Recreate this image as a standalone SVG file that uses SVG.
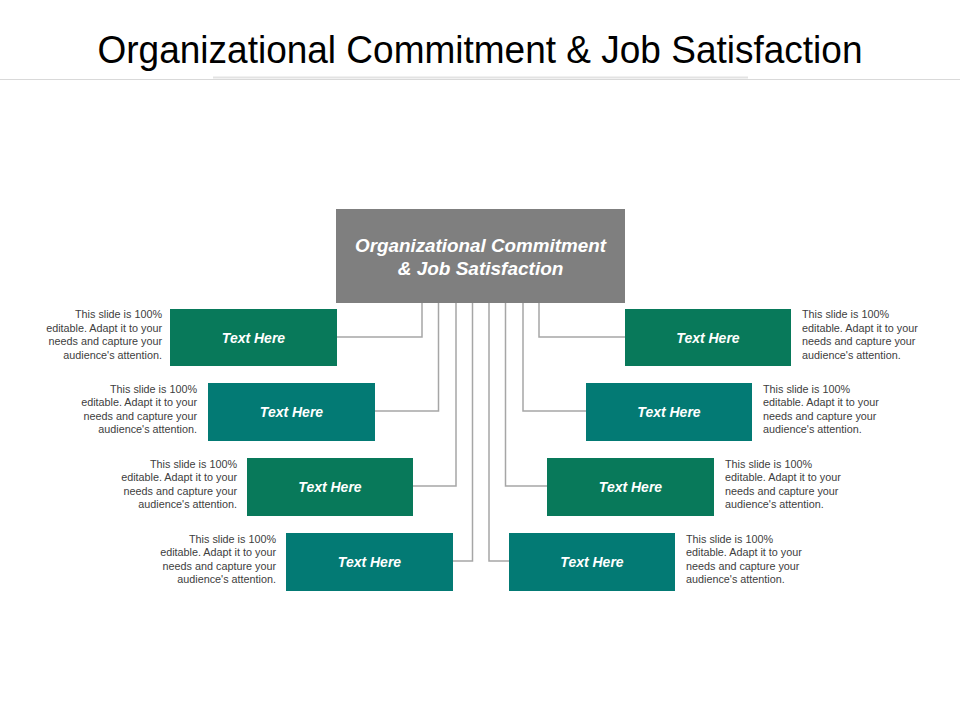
<svg xmlns="http://www.w3.org/2000/svg" width="960" height="720" viewBox="0 0 960 720">
<style>
.title{font-family:"Liberation Sans",Arial,sans-serif;font-size:38px;fill:#000}
.hub{font-family:"Liberation Sans",Arial,sans-serif;font-size:19px;font-weight:bold;font-style:italic;fill:#fff;text-anchor:middle}
.lbl{font-family:"Liberation Sans",Arial,sans-serif;font-size:14px;font-weight:bold;font-style:italic;fill:#fff;text-anchor:middle}
.desc{font-family:"Liberation Sans",Arial,sans-serif;font-size:10.8px;fill:#404040}
.l{text-anchor:end}
.r{text-anchor:start}
.green{fill:#08795A}
.teal{fill:#037A74}
.conn{fill:none;stroke:#A6A6A6;stroke-width:1.5}
</style>
<rect width="960" height="720" fill="#fff"/>
<g id="header">
<text class="title" x="480" y="63" text-anchor="middle" textLength="765" lengthAdjust="spacingAndGlyphs">Organizational  Commitment &amp; Job Satisfaction</text>
<line x1="0" y1="79.5" x2="960" y2="79.5" stroke="#D9D9D9" stroke-width="1"/>
<line x1="213" y1="77.5" x2="748" y2="77.5" stroke="#E3E3E3" stroke-width="2"/>
</g>
<g id="connectors">
<polyline class="conn" points="422,303 422,337 337,337"/>
<polyline class="conn" points="438.5,303 438.5,411 375,411"/>
<polyline class="conn" points="456,303 456,486 413,486"/>
<polyline class="conn" points="472.5,303 472.5,561 453,561"/>
<polyline class="conn" points="489,303 489,561 509,561"/>
<polyline class="conn" points="505.5,303 505.5,486 547,486"/>
<polyline class="conn" points="523,303 523,411 586,411"/>
<polyline class="conn" points="539,303 539,337 625,337"/>
</g>
<g id="hub">
<rect x="336" y="209" width="289" height="94" fill="#7F7F7F"/>
<text class="hub" x="480.5" y="252" textLength="251" lengthAdjust="spacingAndGlyphs">Organizational Commitment</text>
<text class="hub" x="480.5" y="275">&amp; Job Satisfaction</text>
</g>
<g id="left1">
<rect class="green" x="170" y="309" width="167" height="57"/>
<text class="lbl" x="253.5" y="342.5">Text Here</text>
<text class="desc l" x="162"><tspan x="162" y="318">This slide is 100%</tspan><tspan x="162" y="331.5">editable.  Adapt it to your</tspan><tspan x="162" y="345">needs and capture your</tspan><tspan x="162" y="358.5">audience's attention.</tspan></text>
</g>
<g id="left2">
<rect class="teal" x="208" y="383" width="167" height="58"/>
<text class="lbl" x="291.5" y="417">Text Here</text>
<text class="desc l" x="197"><tspan x="197" y="392.5">This slide is 100%</tspan><tspan x="197" y="406">editable.  Adapt it to your</tspan><tspan x="197" y="419.5">needs and capture your</tspan><tspan x="197" y="433">audience's attention.</tspan></text>
</g>
<g id="left3">
<rect class="green" x="247" y="458" width="166" height="58"/>
<text class="lbl" x="330" y="492">Text Here</text>
<text class="desc l" x="237"><tspan x="237" y="467.5">This slide is 100%</tspan><tspan x="237" y="481">editable.  Adapt it to your</tspan><tspan x="237" y="494.5">needs and capture your</tspan><tspan x="237" y="508">audience's attention.</tspan></text>
</g>
<g id="left4">
<rect class="teal" x="286" y="533" width="167" height="58"/>
<text class="lbl" x="369.5" y="567">Text Here</text>
<text class="desc l" x="276"><tspan x="276" y="542.5">This slide is 100%</tspan><tspan x="276" y="556">editable.  Adapt it to your</tspan><tspan x="276" y="569.5">needs and capture your</tspan><tspan x="276" y="583">audience's attention.</tspan></text>
</g>
<g id="right1">
<rect class="green" x="625" y="309" width="166" height="57"/>
<text class="lbl" x="708" y="342.5">Text Here</text>
<text class="desc r" x="802"><tspan x="802" y="318">This slide is 100%</tspan><tspan x="802" y="331.5">editable.  Adapt it to your</tspan><tspan x="802" y="345">needs and capture your</tspan><tspan x="802" y="358.5">audience's attention.</tspan></text>
</g>
<g id="right2">
<rect class="teal" x="586" y="383" width="166" height="58"/>
<text class="lbl" x="669" y="417">Text Here</text>
<text class="desc r" x="763"><tspan x="763" y="392.5">This slide is 100%</tspan><tspan x="763" y="406">editable.  Adapt it to your</tspan><tspan x="763" y="419.5">needs and capture your</tspan><tspan x="763" y="433">audience's attention.</tspan></text>
</g>
<g id="right3">
<rect class="green" x="547" y="458" width="167" height="58"/>
<text class="lbl" x="630.5" y="492">Text Here</text>
<text class="desc r" x="725"><tspan x="725" y="467.5">This slide is 100%</tspan><tspan x="725" y="481">editable.  Adapt it to your</tspan><tspan x="725" y="494.5">needs and capture your</tspan><tspan x="725" y="508">audience's attention.</tspan></text>
</g>
<g id="right4">
<rect class="teal" x="509" y="533" width="166" height="58"/>
<text class="lbl" x="592" y="567">Text Here</text>
<text class="desc r" x="686"><tspan x="686" y="542.5">This slide is 100%</tspan><tspan x="686" y="556">editable.  Adapt it to your</tspan><tspan x="686" y="569.5">needs and capture your</tspan><tspan x="686" y="583">audience's attention.</tspan></text>
</g>
</svg>
